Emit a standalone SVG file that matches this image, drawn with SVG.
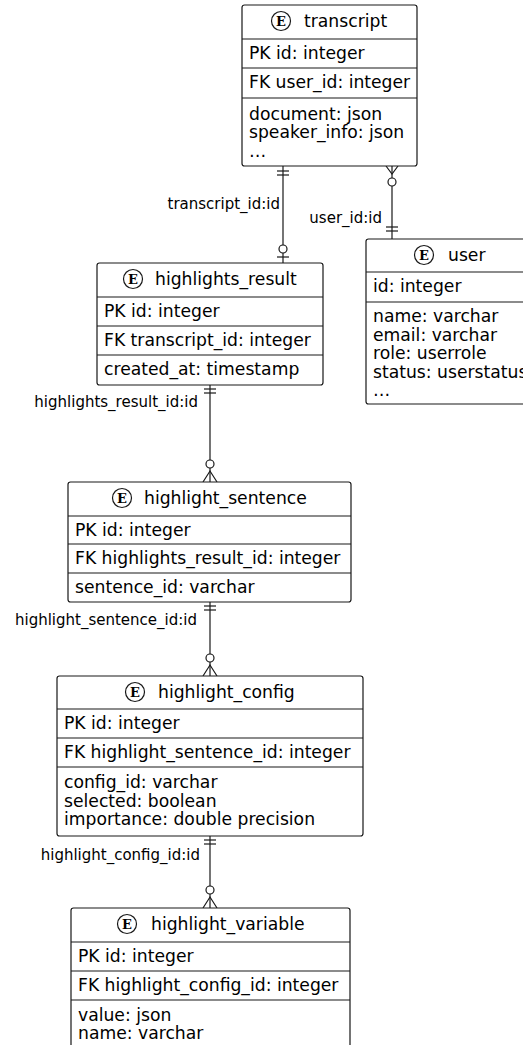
<svg xmlns="http://www.w3.org/2000/svg" width="523" height="1045" viewBox="0 0 523 1045">
<style>
.box{fill:#ffffff;stroke:#181818;stroke-width:1.2}
.sep{stroke:#181818;stroke-width:1.2}
.t{font-family:"DejaVu Sans",sans-serif;font-size:17.2px;fill:#000}
.title{font-family:"DejaVu Sans",sans-serif;font-size:17.2px;fill:#000}
.ec{fill:#ffffff;stroke:#181818;stroke-width:1.2}
.el{font-family:"DejaVu Serif",serif;font-weight:bold;font-size:13px;fill:#000;text-anchor:middle}
.lbl{font-family:"DejaVu Sans",sans-serif;font-size:15px;fill:#000;text-anchor:end}
.ln{stroke:#181818;stroke-width:1.2;fill:none}
.oc{fill:#ffffff;stroke:#181818;stroke-width:1.2}
</style>
<rect width="523" height="1045" fill="#ffffff"/>

<g id="connectors">
  <!-- transcript -> highlights_result -->
  <line class="ln" x1="283" y1="166" x2="283" y2="263"/>
  <line class="ln" x1="277" y1="171" x2="289" y2="171"/>
  <line class="ln" x1="277" y1="175" x2="289" y2="175"/>
  <circle class="oc" cx="283" cy="249" r="4"/>
  <line class="ln" x1="277" y1="257" x2="289" y2="257"/>
  <text class="lbl" x="280" y="209">transcript_id:id</text>

  <!-- transcript -> user -->
  <line class="ln" x1="392" y1="166" x2="392" y2="239"/>
  <path class="ln" d="M386,166 L392,174 L398,166"/>
  <circle class="oc" cx="392" cy="182" r="4"/>
  <line class="ln" x1="386" y1="227" x2="398" y2="227"/>
  <line class="ln" x1="386" y1="231" x2="398" y2="231"/>
  <text class="lbl" x="382" y="223">user_id:id</text>

  <!-- highlights_result -> highlight_sentence -->
  <line class="ln" x1="210" y1="385" x2="210" y2="482"/>
  <line class="ln" x1="204" y1="389" x2="216" y2="389"/>
  <line class="ln" x1="204" y1="393" x2="216" y2="393"/>
  <circle class="oc" cx="210" cy="464" r="4"/>
  <path class="ln" d="M203,482 L210,471 L217,482"/>
  <text class="lbl" x="198" y="407">highlights_result_id:id</text>

  <!-- highlight_sentence -> highlight_config -->
  <line class="ln" x1="210" y1="602" x2="210" y2="676"/>
  <line class="ln" x1="204" y1="606" x2="216" y2="606"/>
  <line class="ln" x1="204" y1="610" x2="216" y2="610"/>
  <circle class="oc" cx="210" cy="658" r="4"/>
  <path class="ln" d="M203,676 L210,665 L217,676"/>
  <text class="lbl" x="197" y="625">highlight_sentence_id:id</text>

  <!-- highlight_config -> highlight_variable -->
  <line class="ln" x1="210" y1="836" x2="210" y2="908"/>
  <line class="ln" x1="204" y1="840" x2="216" y2="840"/>
  <line class="ln" x1="204" y1="844" x2="216" y2="844"/>
  <circle class="oc" cx="210" cy="890" r="4"/>
  <path class="ln" d="M203,908 L210,897 L217,908"/>
  <text class="lbl" x="200" y="860">highlight_config_id:id</text>
</g>

<g id="transcript">
  <rect class="box" x="242" y="5" width="175" height="161" rx="2.5"/>
  <circle class="ec" cx="281" cy="21" r="9.5"/>
  <text class="el" x="281" y="25.5">E</text>
  <text class="title" x="304" y="27">transcript</text>
  <line class="sep" x1="242" y1="39" x2="417" y2="39"/>
  <text class="t" x="249" y="59">PK id: integer</text>
  <line class="sep" x1="242" y1="68" x2="417" y2="68"/>
  <text class="t" x="249" y="88">FK user_id: integer</text>
  <line class="sep" x1="242" y1="98" x2="417" y2="98"/>
  <text class="t" x="249" y="119.5">document: json</text>
  <text class="t" x="249" y="138">speaker_info: json</text>
  <text class="t" x="249" y="156.5">…</text>
</g>

<g id="user">
  <rect class="box" x="366" y="239" width="166" height="165" rx="2.5"/>
  <circle class="ec" cx="424" cy="255" r="9.5"/>
  <text class="el" x="424" y="259.5">E</text>
  <text class="title" x="448" y="261">user</text>
  <line class="sep" x1="366" y1="272" x2="532" y2="272"/>
  <text class="t" x="373" y="292">id: integer</text>
  <line class="sep" x1="366" y1="302" x2="532" y2="302"/>
  <text class="t" x="373" y="322">name: varchar</text>
  <text class="t" x="373" y="340.5">email: varchar</text>
  <text class="t" x="373" y="359">role: userrole</text>
  <text class="t" x="373" y="377.5">status: userstatus</text>
  <text class="t" x="373" y="396">…</text>
</g>

<g id="highlights_result">
  <rect class="box" x="97" y="263" width="226" height="122" rx="2.5"/>
  <circle class="ec" cx="133" cy="279" r="9.5"/>
  <text class="el" x="133" y="283.5">E</text>
  <text class="title" x="155" y="285">highlights_result</text>
  <line class="sep" x1="97" y1="297" x2="323" y2="297"/>
  <text class="t" x="104" y="317">PK id: integer</text>
  <line class="sep" x1="97" y1="326" x2="323" y2="326"/>
  <text class="t" x="104" y="346">FK transcript_id: integer</text>
  <line class="sep" x1="97" y1="355" x2="323" y2="355"/>
  <text class="t" x="104" y="375">created_at: timestamp</text>
</g>

<g id="highlight_sentence">
  <rect class="box" x="68" y="482" width="283" height="120" rx="2.5"/>
  <circle class="ec" cx="122" cy="498" r="9.5"/>
  <text class="el" x="122" y="502.5">E</text>
  <text class="title" x="144" y="504">highlight_sentence</text>
  <line class="sep" x1="68" y1="516" x2="351" y2="516"/>
  <text class="t" x="75" y="536">PK id: integer</text>
  <line class="sep" x1="68" y1="544" x2="351" y2="544"/>
  <text class="t" x="75" y="564">FK highlights_result_id: integer</text>
  <line class="sep" x1="68" y1="573" x2="351" y2="573"/>
  <text class="t" x="75" y="593">sentence_id: varchar</text>
</g>

<g id="highlight_config">
  <rect class="box" x="57" y="676" width="306" height="160" rx="2.5"/>
  <circle class="ec" cx="135" cy="692" r="9.5"/>
  <text class="el" x="135" y="696.5">E</text>
  <text class="title" x="158" y="698">highlight_config</text>
  <line class="sep" x1="57" y1="709" x2="363" y2="709"/>
  <text class="t" x="64" y="729">PK id: integer</text>
  <line class="sep" x1="57" y1="738" x2="363" y2="738"/>
  <text class="t" x="64" y="758">FK highlight_sentence_id: integer</text>
  <line class="sep" x1="57" y1="767" x2="363" y2="767"/>
  <text class="t" x="64" y="788">config_id: varchar</text>
  <text class="t" x="64" y="806.5">selected: boolean</text>
  <text class="t" x="64" y="825">importance: double precision</text>
</g>

<g id="highlight_variable">
  <rect class="box" x="71" y="908" width="279" height="160" rx="2.5"/>
  <circle class="ec" cx="127" cy="924" r="9.5"/>
  <text class="el" x="127" y="928.5">E</text>
  <text class="title" x="151" y="930">highlight_variable</text>
  <line class="sep" x1="71" y1="942" x2="350" y2="942"/>
  <text class="t" x="78" y="962">PK id: integer</text>
  <line class="sep" x1="71" y1="971" x2="350" y2="971"/>
  <text class="t" x="78" y="991">FK highlight_config_id: integer</text>
  <line class="sep" x1="71" y1="1000" x2="350" y2="1000"/>
  <text class="t" x="78" y="1020.5">value: json</text>
  <text class="t" x="78" y="1039">name: varchar</text>
</g>
</svg>
